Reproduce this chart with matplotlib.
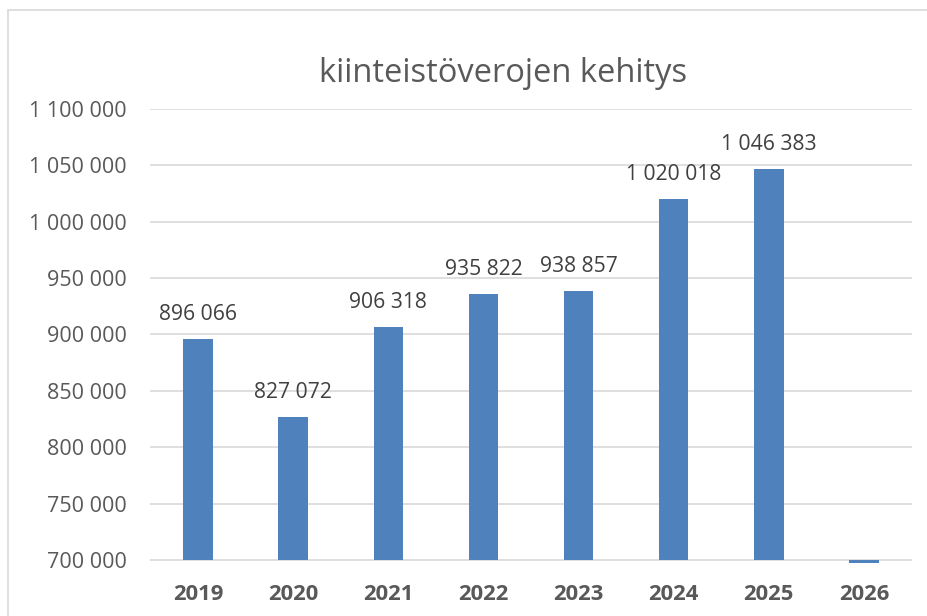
import matplotlib.pyplot as plt
import matplotlib.patches as patches
import numpy as np

years = ['2019', '2020', '2021', '2022', '2023', '2024', '2025', '2026']
values = [896066, 827072, 906318, 935822, 938857, 1020018, 1046383, 0]
yticks = [700000, 750000, 800000, 850000, 900000, 950000, 1000000, 1050000, 1100000]

plt.rcParams['font.family'] = ['Open Sans', 'DejaVu Sans']

base = 700000
grey = '#595959'


def fmt(v):
    return '{:,}'.format(v).replace(',', ' ')


fig = plt.figure(figsize=(9.28, 6.16), dpi=100)
fig.patch.set_facecolor('white')

# chart border like the Excel chart area
fig.patches.append(patches.Rectangle((8.5 / 928, -0.1), 1.2, 1.1 - 9.5 / 616,
                                     transform=fig.transFigure, fill=False,
                                     edgecolor='#d9d9d9', linewidth=1.2))

ax = fig.add_axes([150.5 / 928, 53 / 616, 761 / 928, 454 / 616])

x = np.arange(len(years))
heights = [v - base for v in values]
ax.bar(x, heights, bottom=base, width=0.31, color='#4f81bd', zorder=3)

for xi, v in zip(x, values):
    if v > base:
        ax.text(xi, v + 17000, fmt(v), ha='center', va='baseline',
                fontsize=15.2, color='#404040')

ax.set_xlim(-0.5, len(years) - 0.5)
ax.set_ylim(697300, 1100000)
ax.set_yticks(yticks)
ax.set_yticklabels([fmt(t) for t in yticks], fontsize=15.5, color=grey)
ax.set_xticks(x)
ax.set_xticklabels(years, fontsize=15.8, fontweight='bold', color=grey)
ax.tick_params(axis='both', length=0)
ax.tick_params(axis='y', pad=17)
ax.tick_params(axis='x', pad=15)

ax.grid(axis='y', color='#d9d9d9', linewidth=1.2, zorder=0)
for s in ax.spines.values():
    s.set_visible(False)

fig.text(503 / 928, 1 - 73 / 616, 'kiinteistöverojen kehitys', ha='center', va='center',
         fontsize=23.5, color=grey)

fig.savefig('out.png', dpi=100)
